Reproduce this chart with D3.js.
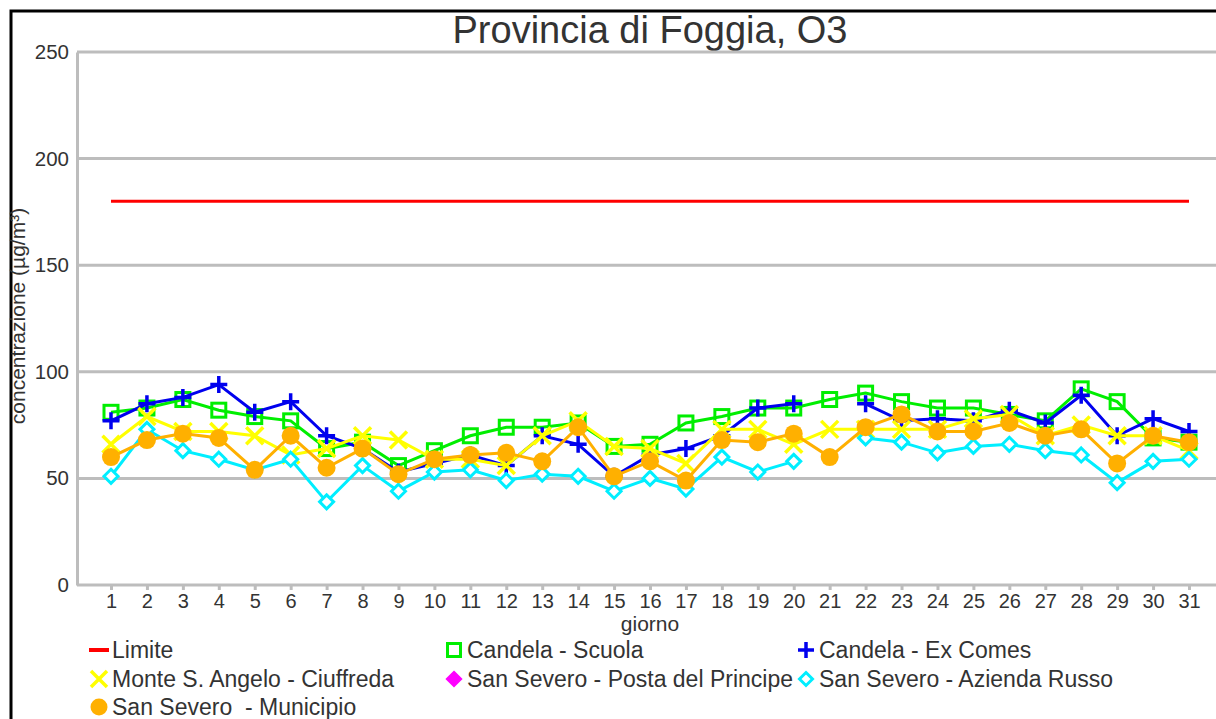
<!DOCTYPE html>
<html>
<head>
<meta charset="utf-8">
<script src="https://cdn.jsdelivr.net/npm/d3@7"></script>
<style>
  body { margin: 0; background: #fff; }
  svg { display: block; font-family: "Liberation Sans", Arial, sans-serif; }
</style>
</head>
<body>
<svg id="chart" width="1216" height="719"></svg>
<script>
// giorni del mese
var days = d3.range(1, 32);
var yTicks = [0, 50, 100, 150, 200, 250];

var limite = days.map(function() { return 180; });
var candelaScuola = [81, 83, 87, 82, 79, 77, 64, 67, 56, 63, 70, 74, 74, 76, 65, 66,
                     76, 79, 83, 83, 87, 90, 86, 83, 83, 80, 77, 92, 86, 69, 67];
var candelaExComes = [77, 85, 88, 94, 81, 86, 70, 64, 53, 57, 61, 56, 70, 66, 51, 61,
                      64, 70, 83, 85, null, 85, 77, 78, 77, 82, 76, 89, 70, 78, 72];
var monteSAngelo = [66, 79, 72, 72, 70, 61, 64, 70, 68, 59, 59, 56, 70, 77, 65, 64,
                    57, 73, 73, 66, 73, 73, 73, 73, 78, 80, 70, 75, 70, 70, 63];
var postaPrincipe = days.map(function() { return null; });
var aziendaRusso = [51, 73, 63, 59, 54, 59, 39, 56, 44, 53, 54, 49, 52, 51, 44, 50,
                    45, 60, 53, 58, null, 69, 67, 62, 65, 66, 63, 61, 48, 58, 59];
var municipio = [60, 68, 71, 69, 54, 70, 55, 64, 52, 59, 61, 62, 58, 74, 51, 58,
                 49, 68, 67, 71, 60, 74, 80, 72, 72, 76, 70, 73, 57, 70, 67];

var series = [
  { name: "Limite", values: limite, color: "#ff0000", marker: "dash" },
  { name: "Candela - Scuola", values: candelaScuola, color: "#00ee00", marker: "square" },
  { name: "Candela - Ex Comes", values: candelaExComes, color: "#0000ee", marker: "plus" },
  { name: "Monte S. Angelo - Ciuffreda", values: monteSAngelo, color: "#ffff00", marker: "cross" },
  { name: "San Severo - Posta del Principe", values: postaPrincipe, color: "#ff00ff", marker: "diamondFill" },
  { name: "San Severo - Azienda Russo", values: aziendaRusso, color: "#00eeff", marker: "diamond" },
  { name: "San Severo  - Municipio", values: municipio, color: "#ffb000", marker: "circle" }
];

var svg = d3.select("#chart");
var grid = "#bdbdbd", txt = "#333";

var x = d3.scalePoint().domain(days).range([111, 1189]);
var y = d3.scaleLinear().domain([0, 250]).range([585, 52]);

// cornice
svg.append("path").attr("d", "M11,719V11H1216").attr("fill", "none")
  .attr("stroke", "#000").attr("stroke-width", 3);

// titolo
svg.append("text").attr("x", 650).attr("y", 43).attr("text-anchor", "middle")
  .attr("font-size", 38).attr("fill", txt).text("Provincia di Foggia, O3");

// griglia
svg.append("g").selectAll("line").data(yTicks.filter(function(d) { return d > 0; })).join("line")
  .attr("x1", 77).attr("x2", 1216).attr("y1", y).attr("y2", y)
  .attr("stroke", grid).attr("stroke-width", 3);

// asse y
var yAxis = svg.append("g").attr("transform", "translate(77,0)")
  .call(d3.axisLeft(y).tickValues(yTicks).tickSize(0).tickPadding(8));
yAxis.select(".domain").attr("stroke", grid).attr("stroke-width", 3);
yAxis.selectAll("text").attr("font-size", 20.5).attr("fill", txt)
  .attr("font-family", "Liberation Sans, Arial, sans-serif");

// asse x
svg.append("line").attr("x1", 77).attr("x2", 1216).attr("y1", 585).attr("y2", 585)
  .attr("stroke", grid).attr("stroke-width", 3);
var xAxis = svg.append("g").attr("transform", "translate(0,585)")
  .call(d3.axisBottom(x).tickSize(5).tickPadding(4));
xAxis.select(".domain").remove();
xAxis.selectAll(".tick line").attr("stroke", grid).attr("stroke-width", 3);
xAxis.selectAll("text").attr("font-size", 20).attr("fill", txt)
  .attr("font-family", "Liberation Sans, Arial, sans-serif");

svg.append("text").attr("x", 650).attr("y", 631).attr("text-anchor", "middle")
  .attr("font-size", 21).attr("fill", txt).text("giorno");
svg.append("text").attr("transform", "translate(25,316) rotate(-90)")
  .attr("text-anchor", "middle").attr("font-size", 21).attr("fill", txt)
  .text("concentrazione (µg/m³)");

function drawMarker(g, type, color, s) {
  var h = s / 2;
  if (type === "square") {
    g.append("rect").attr("x", -h + 1.5).attr("y", -h + 1.5).attr("width", s - 3).attr("height", s - 3)
      .attr("fill", "none").attr("stroke", color).attr("stroke-width", 3);
  } else if (type === "plus") {
    g.append("path").attr("d", "M" + (-h) + ",0H" + h + "M0," + (-h) + "V" + h)
      .attr("stroke", color).attr("stroke-width", 3.5);
  } else if (type === "cross") {
    g.append("path").attr("d", "M" + (-h) + "," + (-h) + "L" + h + "," + h + "M" + (-h) + "," + h + "L" + h + "," + (-h))
      .attr("stroke", color).attr("stroke-width", 3.5);
  } else if (type === "diamond" || type === "diamondFill") {
    var d = h - 1.5;
    g.append("path").attr("d", "M0," + (-d) + "L" + d + ",0L0," + d + "L" + (-d) + ",0Z")
      .attr("fill", type === "diamondFill" ? color : "#fff").attr("stroke", color).attr("stroke-width", 3);
  } else if (type === "circle") {
    g.append("circle").attr("r", h + 0.5).attr("fill", color);
  } else if (type === "dash") {
    g.append("line").attr("x1", -h - 2).attr("x2", h + 2).attr("stroke", color).attr("stroke-width", 4);
  }
}

var line = d3.line()
  .defined(function(d) { return d.v != null; })
  .x(function(d) { return x(d.day); })
  .y(function(d) { return y(d.v); });

series.forEach(function(s) {
  var pts = days.map(function(day, i) { return { day: day, v: s.values[i] }; });
  var g = svg.append("g");
  g.append("path").datum(pts).attr("d", line).attr("fill", "none")
    .attr("stroke", s.color).attr("stroke-width", 3);
  if (s.marker !== "dash") {
    pts.filter(function(d) { return d.v != null; }).forEach(function(d) {
      var m = g.append("g").attr("transform", "translate(" + x(d.day) + "," + y(d.v) + ")");
      drawMarker(m, s.marker, s.color, 17);
    });
  }
});

// legenda
var legCols = [99, 454, 806];
var legRows = [650, 679, 707];
series.forEach(function(s, i) {
  var lx = legCols[i % 3], ly = legRows[Math.floor(i / 3)];
  var m = svg.append("g").attr("transform", "translate(" + lx + "," + ly + ")");
  drawMarker(m, s.marker, s.color, 16);
  svg.append("text").attr("x", lx + 13).attr("y", ly + 8).attr("font-size", 23)
    .attr("fill", txt).text(s.name).style("white-space", "pre");
});
</script>
</body>
</html>
